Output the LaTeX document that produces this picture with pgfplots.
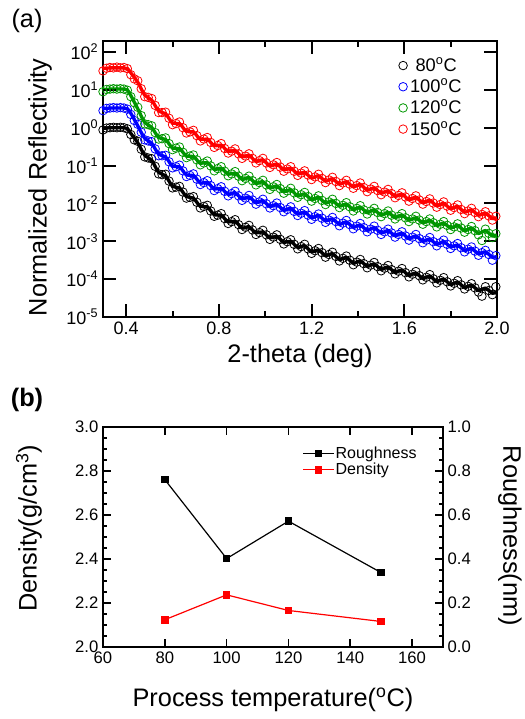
\documentclass[border=0pt]{standalone}
\usepackage{fontspec}
\setmainfont{Liberation Sans}
\usepackage{pgfplots}
\usepackage{pgfplotstable}
\pgfplotsset{compat=1.18}

\definecolor{cgreen}{RGB}{0,150,0}
\definecolor{cblue}{RGB}{0,0,255}
\definecolor{cred}{RGB}{255,0,0}

% fitted curves, log10 of reflectivity
\pgfplotstableread{
x      k      b      g      r
0.300 -0.02  0.50  1.00  1.56
0.330  0.00  0.52  1.02  1.58
0.360  0.00  0.52  1.02  1.58
0.390  0.00  0.52  1.02  1.58
0.405 -0.02  0.50  1.00  1.56
0.420 -0.15  0.38  0.85  1.45
0.450 -0.40  0.05  0.50  1.20
0.480 -0.73 -0.28  0.14  0.86
0.510 -0.86 -0.41  0.01  0.73
0.540 -1.18 -0.70 -0.26  0.44
0.570 -1.27 -0.77 -0.31  0.37
0.600 -1.55 -1.02 -0.54  0.12
0.630 -1.59 -1.03 -0.55  0.11
0.660 -1.82 -1.25 -0.75 -0.10
0.690 -1.86 -1.26 -0.76 -0.11
0.720 -2.08 -1.46 -0.94 -0.31
0.750 -2.09 -1.44 -0.92 -0.30
0.780 -2.30 -1.62 -1.10 -0.48
0.810 -2.31 -1.60 -1.07 -0.46
0.840 -2.49 -1.76 -1.23 -0.63
0.870 -2.47 -1.72 -1.20 -0.60
0.900 -2.65 -1.88 -1.36 -0.77
0.930 -2.62 -1.83 -1.32 -0.73
0.960 -2.78 -1.98 -1.47 -0.89
0.990 -2.75 -1.93 -1.43 -0.85
1.020 -2.91 -2.08 -1.59 -1.01
1.050 -2.87 -2.03 -1.54 -0.96
1.080 -3.03 -2.18 -1.69 -1.11
1.110 -3.00 -2.13 -1.64 -1.07
1.140 -3.16 -2.28 -1.80 -1.22
1.170 -3.12 -2.23 -1.75 -1.18
1.200 -3.28 -2.38 -1.90 -1.33
1.230 -3.23 -2.32 -1.84 -1.27
1.260 -3.38 -2.46 -1.99 -1.41
1.290 -3.33 -2.41 -1.93 -1.35
1.320 -3.48 -2.55 -2.07 -1.49
1.350 -3.43 -2.49 -2.02 -1.43
1.380 -3.58 -2.63 -2.16 -1.56
1.410 -3.52 -2.57 -2.10 -1.50
1.440 -3.66 -2.71 -2.24 -1.65
1.470 -3.60 -2.64 -2.17 -1.59
1.500 -3.74 -2.78 -2.31 -1.73
1.530 -3.68 -2.72 -2.24 -1.67
1.560 -3.82 -2.85 -2.37 -1.81
1.590 -3.76 -2.79 -2.31 -1.76
1.620 -3.90 -2.93 -2.44 -1.90
1.650 -3.84 -2.86 -2.38 -1.84
1.680 -3.98 -3.00 -2.51 -1.98
1.710 -3.92 -2.94 -2.45 -1.92
1.740 -4.06 -3.08 -2.58 -2.06
1.770 -4.00 -3.01 -2.52 -2.00
1.800 -4.14 -3.15 -2.65 -2.14
1.830 -4.08 -3.10 -2.58 -2.08
1.860 -4.22 -3.24 -2.72 -2.23
1.890 -4.16 -3.19 -2.65 -2.17
1.920 -4.30 -3.33 -2.79 -2.31
1.950 -4.24 -3.28 -2.72 -2.26
1.980 -4.37 -3.42 -2.86 -2.40
2.000 -4.35 -3.40 -2.83 -2.38
}\fitdata

% measured points, log10 of reflectivity
\pgfplotstableread{
x      k      b      g      r
0.300 -0.06  0.45  0.95  1.50
0.315 -0.01  0.51  1.01  1.57
0.330  0.00  0.52  1.02  1.59
0.345  0.01  0.53  1.03  1.58
0.360  0.00  0.52  1.02  1.60
0.375  0.01  0.53  1.03  1.58
0.390  0.00  0.52  1.02  1.59
0.405 -0.03  0.49  0.99  1.56
0.420 -0.18  0.35  0.82  1.40
0.435 -0.32  0.19  0.66  1.29
0.450 -0.36  0.09  0.54  1.24
0.465 -0.57 -0.12  0.32  1.03
0.480 -0.77 -0.32  0.10  0.82
0.495 -0.80 -0.35  0.08  0.80
0.510 -0.82 -0.37  0.05  0.77
0.525 -1.02 -0.56 -0.13  0.59
0.540 -1.22 -0.74 -0.30  0.40
0.555 -1.24 -0.74 -0.29  0.40
0.570 -1.23 -0.73 -0.27  0.41
0.585 -1.41 -0.90 -0.42  0.25
0.600 -1.59 -1.06 -0.58  0.08
0.615 -1.57 -1.03 -0.54  0.11
0.630 -1.55 -0.99 -0.51  0.15
0.645 -1.70 -1.14 -0.65  0.00
0.660 -1.86 -1.29 -0.79 -0.14
0.675 -1.84 -1.26 -0.75 -0.11
0.690 -1.82 -1.22 -0.72 -0.07
0.705 -1.97 -1.36 -0.85 -0.21
0.720 -2.12 -1.50 -0.98 -0.35
0.735 -2.08 -1.45 -0.93 -0.30
0.750 -2.05 -1.40 -0.88 -0.26
0.765 -2.20 -1.53 -1.01 -0.39
0.780 -2.34 -1.66 -1.14 -0.52
0.795 -2.31 -1.61 -1.08 -0.47
0.810 -2.27 -1.56 -1.03 -0.42
0.825 -2.40 -1.68 -1.15 -0.55
0.840 -2.53 -1.80 -1.27 -0.67
0.855 -2.48 -1.74 -1.22 -0.62
0.870 -2.43 -1.68 -1.16 -0.56
0.885 -2.56 -1.80 -1.28 -0.69
0.900 -2.69 -1.92 -1.40 -0.81
0.915 -2.63 -1.86 -1.34 -0.75
0.930 -2.58 -1.79 -1.28 -0.69
0.945 -2.70 -1.91 -1.40 -0.81
0.960 -2.82 -2.02 -1.51 -0.93
0.975 -2.77 -1.96 -1.45 -0.87
0.990 -2.71 -1.89 -1.39 -0.81
1.005 -2.83 -2.01 -1.51 -0.93
1.020 -2.95 -2.12 -1.63 -1.05
1.035 -2.89 -2.06 -1.56 -0.98
1.050 -2.83 -1.99 -1.50 -0.92
1.065 -2.95 -2.11 -1.61 -1.04
1.080 -3.07 -2.22 -1.73 -1.15
1.095 -3.01 -2.16 -1.67 -1.09
1.110 -2.96 -2.09 -1.60 -1.03
1.125 -3.08 -2.21 -1.72 -1.15
1.140 -3.20 -2.32 -1.84 -1.26
1.155 -3.14 -2.26 -1.77 -1.20
1.170 -3.08 -2.19 -1.71 -1.14
1.185 -3.20 -2.31 -1.82 -1.25
1.200 -3.32 -2.42 -1.94 -1.37
1.215 -3.25 -2.35 -1.87 -1.30
1.230 -3.19 -2.28 -1.80 -1.23
1.245 -3.30 -2.39 -1.92 -1.34
1.260 -3.42 -2.50 -2.03 -1.45
1.275 -3.35 -2.44 -1.96 -1.38
1.290 -3.29 -2.37 -1.89 -1.31
1.305 -3.40 -2.48 -2.00 -1.42
1.320 -3.52 -2.59 -2.11 -1.53
1.335 -3.45 -2.52 -2.05 -1.46
1.350 -3.39 -2.45 -1.98 -1.39
1.365 -3.50 -2.56 -2.09 -1.49
1.380 -3.62 -2.67 -2.20 -1.60
1.395 -3.55 -2.60 -2.13 -1.53
1.410 -3.48 -2.53 -2.06 -1.46
1.425 -3.59 -2.64 -2.17 -1.58
1.440 -3.70 -2.75 -2.28 -1.69
1.455 -3.63 -2.68 -2.20 -1.62
1.470 -3.56 -2.60 -2.13 -1.55
1.485 -3.67 -2.71 -2.24 -1.66
1.500 -3.78 -2.82 -2.35 -1.77
1.515 -3.71 -2.75 -2.27 -1.70
1.530 -3.64 -2.68 -2.20 -1.63
1.545 -3.75 -2.78 -2.31 -1.74
1.560 -3.86 -2.89 -2.41 -1.85
1.575 -3.79 -2.82 -2.34 -1.79
1.590 -3.72 -2.75 -2.27 -1.72
1.605 -3.83 -2.86 -2.38 -1.83
1.620 -3.94 -2.97 -2.48 -1.94
1.635 -3.87 -2.89 -2.41 -1.87
1.650 -3.80 -2.82 -2.34 -1.80
1.665 -3.91 -2.93 -2.44 -1.91
1.680 -4.02 -3.04 -2.55 -2.02
1.695 -3.95 -2.97 -2.48 -1.95
1.710 -3.88 -2.90 -2.41 -1.88
1.725 -3.99 -3.01 -2.51 -1.99
1.740 -4.10 -3.12 -2.62 -2.10
1.755 -4.03 -3.04 -2.55 -2.03
1.770 -3.96 -2.97 -2.48 -1.96
1.785 -4.07 -3.08 -2.58 -2.07
1.800 -4.18 -3.19 -2.69 -2.18
1.815 -4.11 -3.12 -2.62 -2.11
1.830 -4.04 -3.06 -2.54 -2.04
1.845 -4.15 -3.17 -2.65 -2.16
1.860 -4.26 -3.28 -2.76 -2.27
1.875 -4.19 -3.21 -2.69 -2.20
1.890 -4.12 -3.15 -2.61 -2.13
1.905 -4.23 -3.26 -2.72 -2.24
1.920 -4.34 -3.37 -2.83 -2.35
1.935 -4.45 -3.30 -2.98 -2.29
1.950 -4.20 -3.24 -2.68 -2.22
1.965 -4.30 -3.35 -2.79 -2.33
1.980 -4.41 -3.50 -2.90 -2.44
1.995 -4.20 -3.38 -2.80 -2.34
}\measdata

\begin{document}
\begin{tikzpicture}
\path[use as bounding box] (0,0) rectangle (393.75pt,539.25pt);

% (a) reflectivity curves
\begin{axis}[
  at={(77.25pt,301.5pt)}, anchor=south west,
  scale only axis, width=295.5pt, height=207pt,
  xmin=0.3, xmax=2.0, ymin=-5, ymax=2.29,
  axis line style={line width=2pt},
  tick align=inside,
  major tick length=0pt, minor tick length=0pt,
  xtick={0.4,0.8,1.2,1.6,2.0},
  xticklabels={0.4,0.8,1.2,1.6,2.0},
  ytick={-5,-4,-3,-2,-1,0,1,2},
  yticklabels={10\textsuperscript{-5},10\textsuperscript{-4},10\textsuperscript{-3},10\textsuperscript{-2},10\textsuperscript{-1},10\textsuperscript{0},10\textsuperscript{1},10\textsuperscript{2}},
  ticklabel style={font=\fontsize{13.5}{16}\selectfont},
  xlabel={2-theta (deg)},
  ylabel={Normalized Reflectivity},
  xlabel style={at={(axis description cs:0.5,-0.141)}, anchor=center, font=\fontsize{19}{23}\selectfont},
  ylabel style={at={(axis description cs:-0.16,0.47)}, anchor=center, font=\fontsize{19}{23}\selectfont},
  legend style={draw=none, fill=none, at={(axis description cs:0.74,0.96)}, anchor=north west,
    font=\fontsize{13.7}{16}\selectfont},
  legend cell align=left,
]
\addplot[only marks, mark=o, mark size=3.2pt, mark options={line width=0.6pt}, black] table[x=x,y=k]{\measdata};
\addlegendentry{\hspace{0.3em}80\textsuperscript{o}C}
\addplot[only marks, mark=o, mark size=3.2pt, mark options={line width=0.6pt}, cblue] table[x=x,y=b]{\measdata};
\addlegendentry{100\textsuperscript{o}C}
\addplot[only marks, mark=o, mark size=3.2pt, mark options={line width=0.6pt}, cgreen] table[x=x,y=g]{\measdata};
\addlegendentry{120\textsuperscript{o}C}
\addplot[only marks, mark=o, mark size=3.2pt, mark options={line width=0.6pt}, cred] table[x=x,y=r]{\measdata};
\addlegendentry{150\textsuperscript{o}C}

\addplot[smooth, no marks, line width=2.5pt, black, forget plot] table[x=x,y=k]{\fitdata};
\addplot[smooth, no marks, line width=2.5pt, cblue, forget plot] table[x=x,y=b]{\fitdata};
\addplot[smooth, no marks, line width=2.5pt, cgreen, forget plot] table[x=x,y=g]{\fitdata};
\addplot[smooth, no marks, line width=2.5pt, cred, forget plot] table[x=x,y=r]{\fitdata};

% inward ticks on all four sides, ends given in axis units
\pgfplotsinvokeforeach{-5,-4,-3,-2,-1,0,1,2}{
  \draw[line width=1.5pt] (axis cs:0.3,#1) -- (axis cs:0.356,#1);
  \draw[line width=1.5pt] (axis cs:2.0,#1) -- (axis cs:1.944,#1);
}
\pgfplotsinvokeforeach{0.4,0.8,1.2,1.6}{
  \draw[line width=1.5pt] (axis cs:#1,-5) -- (axis cs:#1,-4.657);
  \draw[line width=1.5pt] (axis cs:#1,2.29) -- (axis cs:#1,1.947);
}
\pgfplotsinvokeforeach{0.6,1.0,1.4,1.8}{
  \draw[line width=1.5pt] (axis cs:#1,-5) -- (axis cs:#1,-4.841);
  \draw[line width=1.5pt] (axis cs:#1,2.29) -- (axis cs:#1,2.131);
}
\end{axis}

% (b) density, left axis
\begin{axis}[
  at={(77.25pt,54pt)}, anchor=south west,
  scale only axis, width=255pt, height=165pt,
  xmin=60, xmax=170, ymin=2.0, ymax=3.0,
  axis line style={line width=1.5pt},
  tick align=inside,
  major tick length=0pt, minor tick length=0pt,
  xtick={60,80,100,120,140,160},
  xticklabels={60,80,100,120,140,160},
  ytick={2.0,2.2,2.4,2.6,2.8,3.0},
  yticklabels={2.0,2.2,2.4,2.6,2.8,3.0},
  ytick pos=left,
  ticklabel style={font=\fontsize{12.5}{15}\selectfont},
  xlabel={Process temperature(\textsuperscript{o}C)},
  ylabel={Density(g/cm\textsuperscript{3})},
  xlabel style={at={(axis description cs:0.5,-0.24)}, anchor=center, font=\fontsize{19}{23}\selectfont},
  ylabel style={at={(axis description cs:-0.218,0.54)}, anchor=center, font=\fontsize{19}{23}\selectfont},
]
\addplot[cred, line width=0.9pt, mark=square*, mark size=2.4pt] coordinates {(80,2.124) (100,2.237) (120,2.166) (150,2.116)};

% inward ticks (right side shared with the roughness scale)
\pgfplotsinvokeforeach{2.0,2.2,2.4,2.6,2.8,3.0}{
  \draw[line width=1.2pt] (axis cs:60,#1) -- (axis cs:62.59,#1);
  \draw[line width=1.2pt] (axis cs:170,#1) -- (axis cs:167.41,#1);
}
\pgfplotsinvokeforeach{2.05,2.1,2.15,2.25,2.3,2.35,2.45,2.5,2.55,2.65,2.7,2.75,2.85,2.9,2.95}{
  \draw[line width=1pt] (axis cs:60,#1) -- (axis cs:61.29,#1);
  \draw[line width=1pt] (axis cs:170,#1) -- (axis cs:168.71,#1);
}
\pgfplotsinvokeforeach{80,100,120,140,160}{
  \draw[line width=1.2pt] (axis cs:#1,2.0) -- (axis cs:#1,2.036);
  \draw[line width=1.2pt] (axis cs:#1,3.0) -- (axis cs:#1,2.964);
}
\end{axis}

% (b) roughness, right axis
\begin{axis}[
  at={(77.25pt,54pt)}, anchor=south west,
  scale only axis, width=255pt, height=165pt,
  xmin=60, xmax=170, ymin=0, ymax=1,
  hide x axis, axis y line*=right,
  axis line style={line width=1.5pt},
  major tick length=0pt, minor tick length=0pt,
  ytick={0,0.2,0.4,0.6,0.8,1.0},
  yticklabels={0.0,0.2,0.4,0.6,0.8,1.0},
  ticklabel style={font=\fontsize{12.5}{15}\selectfont},
  ylabel={Roughness(nm)},
  ylabel style={at={(axis description cs:1.197,0.505)}, rotate=180, anchor=center, font=\fontsize{19}{23}\selectfont},
  legend style={draw=none, fill=none, at={(axis description cs:0.575,0.93)}, anchor=north west,
    font=\fontsize{12}{14}\selectfont, nodes={inner sep=1pt}},
  legend cell align=left,
  legend image code/.code={\draw[mark repeat=2,mark phase=2,#1] plot coordinates {(0cm,0cm) (0.4cm,0cm) (0.8cm,0cm)};},
]
\addplot[black, line width=0.9pt, mark=square*, mark size=2.4pt] coordinates {(80,0.761) (100,0.402) (120,0.572) (150,0.338)};
\addlegendentry{Roughness}
\addlegendimage{cred, line width=0.9pt, mark=square*, mark size=2.4pt}
\addlegendentry{Density}
\end{axis}

\node[font=\fontsize{19}{23}\selectfont] at (20.25pt,523.5pt) {(a)};
\node[font=\fontsize{19}{23}\selectfont\bfseries] at (20.25pt,239.25pt) {(b)};
\end{tikzpicture}
\end{document}
